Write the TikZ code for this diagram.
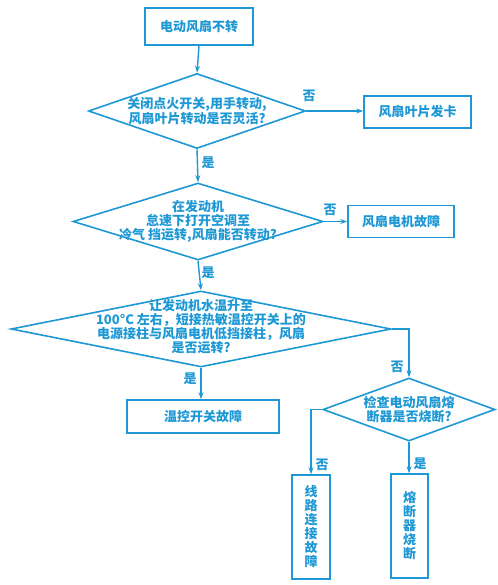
\documentclass[tikz,border=0pt]{standalone}
\usepackage{fontspec}
\setmainfont{Noto Sans CJK SC}
\usetikzlibrary{shapes.geometric,arrows.meta}
\definecolor{fc}{RGB}{30,152,212}
\tikzset{
  every node/.style={font=\fontsize{13}{14}\selectfont\bfseries, text=fc},
  box/.style={draw=fc, line width=1.6pt, inner sep=0pt, align=center},
  dia/.style={draw=fc, line width=1.6pt, diamond, inner sep=0pt},
  dtext/.style={align=center, inner sep=0pt},
  conn/.style={draw=fc, line width=1.4pt, -{Stealth[length=7pt,width=5pt]}},
  lab/.style={inner sep=0pt}
}
\begin{document}
\begin{tikzpicture}[x=1pt,y=-1pt]
\useasboundingbox (0,0) rectangle (497,585);
% nodes
\node[box, minimum width=108, minimum height=37] (b1) at (199,26.5) {电动风扇不转};
\node[dia, minimum width=217, minimum height=75] (d1) at (197,111) {};
\node[dtext] (t1) at (d1.center) {关闭点火开关,用手转动,\\风扇叶片转动是否灵活?};
\node[box, minimum width=107, minimum height=32] (b2) at (417.5,112) {风扇叶片发卡};
\node[dia, minimum width=250, minimum height=77] (d2) at (198,221.5) {};
\node[dtext] (t2) at (d2.center) {在发动机\\怠速下打开空调至\\冷气 挡运转,风扇能否转动?};
\node[box, minimum width=106, minimum height=32] (b3) at (401,221.5) {风扇电机故障};
\node[dia, minimum width=380, minimum height=76] (d3) at (201,329) {};
\node[dtext] (t3) at ([yshift=2]d3.center) {让发动机水温升至\\100°C 左右，短接热敏温控开关上的\\电源接柱与风扇电机低挡接柱，风扇\\是否运转?};
\node[box, minimum width=152, minimum height=33] (b4) at (203,416.5) {温控开关故障};
\node[dia, minimum width=172, minimum height=63] (d4) at (409,409.5) {};
\node[dtext] (t4) at (d4.center) {检查电动风扇熔\\断器是否烧断?};
\node[box, minimum width=38, minimum height=104] (b5) at (311,527) {线\\路\\连\\接\\故\\障};
\node[box, minimum width=37, minimum height=104] (b6) at (409.5,526) {熔\\断\\器\\烧\\断};
% connectors
\draw[conn] (b1.south) -- (d1.north);
\draw[conn] (d1.east) -- (b2.west |- d1.east);
\draw[conn] (d1.south) -- (d2.north);
\draw[conn] (d2.east) -- (b3.west |- d2.east);
\draw[conn] (d2.south) -- (d3.north);
\draw[conn] (d3.south) -- (d3.south |- b4.north);
\draw[conn] (d3.east) -| (d4.north);
\draw[conn] (d4.west) -| (b5.north);
\draw[conn] (d4.south) -- (d4.south |- b6.north);
% labels
\node[lab] (l1) at (309,96) {否};
\node[lab] (l2) at (208,163) {是};
\node[lab] (l3) at (330,210) {否};
\node[lab] (l4) at (208,273) {是};
\node[lab] (l5) at (190,379) {是};
\node[lab] (l6) at (397,367) {否};
\node[lab] (l7) at (322,465) {否};
\node[lab] (l8) at (420,464) {是};
\end{tikzpicture}
\end{document}
